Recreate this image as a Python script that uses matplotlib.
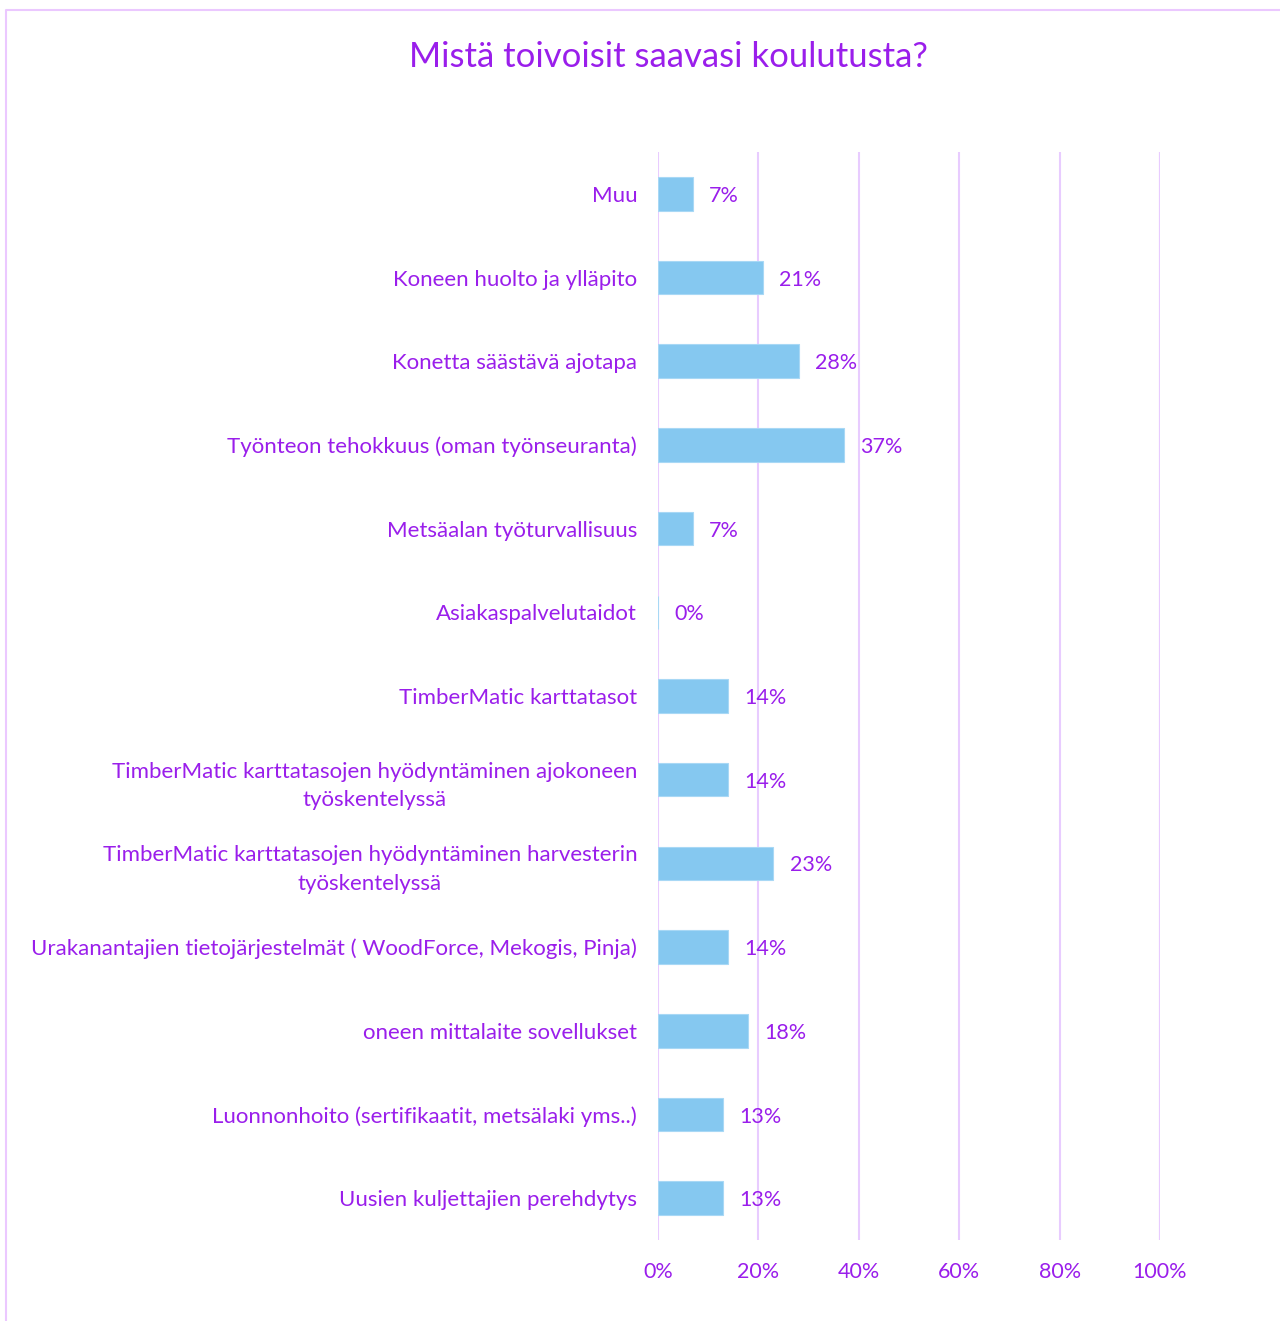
import matplotlib
matplotlib.use("Agg")
import matplotlib.pyplot as plt
from matplotlib.lines import Line2D
from matplotlib.ticker import FuncFormatter

plt.rcParams["font.family"] = ["Lato", "DejaVu Sans"]

categories = [
    "Muu",
    "Koneen huolto ja ylläpito",
    "Konetta säästävä ajotapa",
    "Työnteon tehokkuus (oman työnseuranta)",
    "Metsäalan työturvallisuus",
    "Asiakaspalvelutaidot",
    "TimberMatic karttatasot",
    "TimberMatic karttatasojen hyödyntäminen ajokoneen\ntyöskentelyssä",
    "TimberMatic karttatasojen hyödyntäminen harvesterin\ntyöskentelyssä",
    "Urakanantajien tietojärjestelmät ( WoodForce, Mekogis, Pinja)",
    "oneen mittalaite sovellukset",
    "Luonnonhoito (sertifikaatit, metsälaki yms..)",
    "Uusien kuljettajien perehdytys",
]
values = [0.07, 0.21, 0.28, 0.37, 0.07, 0.00, 0.14, 0.14, 0.23, 0.14, 0.18, 0.13, 0.13]
ticks = [0, 0.2, 0.4, 0.6, 0.8, 1.0]

purple = "#9A1EEB"
bar_color = "#85C8F0"
grid_color = "#E8CCFF"

W, H = 1280, 1321
fig = plt.figure(figsize=(W / 100, H / 100), dpi=100)
ax = fig.add_axes([658 / W, 1 - 1240 / H, (1160 - 658) / W, (1240 - 152) / H])

pos = list(range(len(categories)))
ax.barh(pos, values, height=0.4, color=bar_color, edgecolor="#A8D8F5", linewidth=0.8, zorder=3)
for y, v in zip(pos, values):
    ax.text(v + 0.032, y + 0.025, f"{round(v * 100):.0f}%", va="center", ha="left",
            color=purple, fontsize=15.5, zorder=4)

ax.set_xlim(0, 1.0)
ax.set_ylim(len(categories) - 0.5, -0.5)
ax.set_xticks(ticks)
ax.xaxis.set_major_formatter(FuncFormatter(lambda x, p: f"{x * 100:.0f}%"))
ax.set_yticks(pos)
ax.set_yticklabels(categories, linespacing=1.55, multialignment="center")
ax.tick_params(axis="y", length=0, pad=15, labelsize=16, labelcolor=purple)
ax.tick_params(axis="x", length=0, pad=16, labelsize=15.5, labelcolor=purple)
ax.grid(axis="x", color=grid_color, linewidth=1.5, zorder=0)
ax.set_axisbelow(True)
for s in ax.spines.values():
    s.set_visible(False)
ax.axvline(1.0, color=grid_color, linewidth=1.5, zorder=0)

fig.text(668 / W, 1 - 57 / H, "Mistä toivoisit saavasi koulutusta?", ha="center", va="center",
         color=purple, fontsize=25)

fig.add_artist(Line2D([6 / W, 6 / W, 1.0], [0, 1 - 10 / H, 1 - 10 / H],
                      transform=fig.transFigure, color="#EBC8FF", linewidth=1.5))

fig.savefig("out.png", dpi=100)
